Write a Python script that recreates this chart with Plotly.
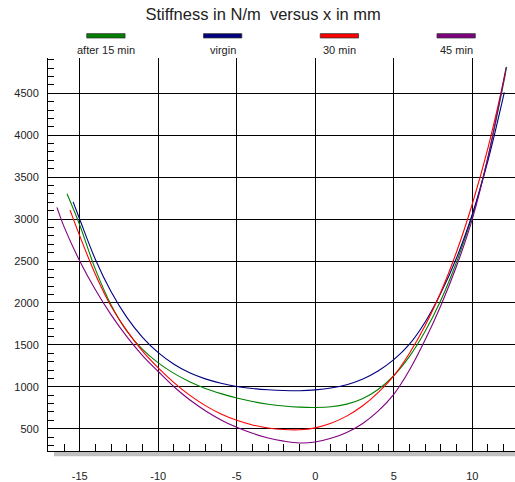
import plotly.graph_objects as go

# ---- data ----
series_names = ["after 15 min", "virgin", "30 min", "45 min"]
series_colors = ["#008000", "#000080", "#ff0000", "#800080"]

x_virgin = [-15.42, -15, -14, -13, -12, -11, -10, -9, -8, -7, -6, -5, -4, -3, -2, -1,
            0, 1, 2, 3, 4, 5, 6, 7, 8, 9, 10, 11, 12, 12.04]
y_virgin = [3205, 2998, 2518, 2133, 1828, 1590, 1407, 1269, 1167, 1094, 1042, 1004, 980,
            964, 955, 953, 963, 985, 1025, 1090, 1188, 1323, 1508, 1773, 2118, 2538, 3058,
            3698, 4478, 4512]

x_15 = [-15.81, -15, -14, -13, -12, -11, -10, -9, -8, -7, -6, -5, -4, -3, -2, -1,
        0, 1, 2, 3, 4, 5, 6, 7, 8, 9, 10, 11, 12, 12.19]
y_15 = [3301, 2930, 2400, 1975, 1662, 1445, 1285, 1160, 1060, 980, 918, 866, 824, 792,
        770, 757, 753, 761, 793, 858, 968, 1133, 1363, 1663, 2033, 2488, 3038, 3738, 4628,
        4815]

x_30 = [-15.62, -15, -14, -13, -12, -11, -10, -9, -8, -7, -6, -5, -4, -3, -2, -1,
        0, 1, 2, 3, 4, 5, 6, 7, 8, 9, 10, 11, 12, 12.1]
y_30 = [3110, 2800, 2340, 1960, 1670, 1425, 1225, 1050, 900, 775, 675, 600, 545, 508,
        490, 488, 510, 565, 650, 770, 930, 1130, 1400, 1730, 2130, 2610, 3180, 3850, 4650,
        4740]

x_45 = [-16.45, -16, -15, -14, -13, -12, -11, -10, -9, -8, -7, -6, -5, -4, -3, -2, -1,
        0, 1, 2, 3, 4, 5, 6, 7, 8, 9, 10, 11, 12, 12.15]
y_45 = [3140, 2910, 2500, 2157, 1857, 1597, 1372, 1182, 1000, 845, 715, 605, 516, 445,
        390, 352, 330, 342, 385, 455, 560, 710, 910, 1200, 1560, 1970, 2440, 3000, 3740,
        4660, 4810]

x_ticks = [-15, -10, -5, 0, 5, 10]
y_ticks = [500, 1000, 1500, 2000, 2500, 3000, 3500, 4000, 4500]

title_text = "Stiffness in N/m  versus x in mm"

xs = [x_15, x_virgin, x_30, x_45]
ys = [y_15, y_virgin, y_30, y_45]

FONT = "Liberation Sans, Arial, sans-serif"

fig = go.Figure()
for name, color, xv, yv in zip(series_names, series_colors, xs, ys):
    fig.add_trace(go.Scatter(x=xv, y=yv, mode="lines", name=name,
                             line=dict(color=color, width=1.1, shape="spline",
                                       smoothing=1.0),
                             showlegend=False))

# custom legend: bar above text
shapes = []
annotations = []
for i, (name, color) in enumerate(zip(series_names, series_colors)):
    cx = 0.124 + i * 0.25
    shapes.append(dict(type="rect", xref="paper", yref="paper",
                       x0=cx - 0.041, x1=cx + 0.041, y0=1.051, y1=1.062,
                       fillcolor=color, line=dict(color="#333333", width=0.8)))
    annotations.append(dict(text=name, xref="paper", yref="paper", x=cx, y=1.021,
                            xanchor="center", yanchor="middle", showarrow=False,
                            font=dict(family=FONT, size=11, color="#222222")))

# gray shadow under bottom axis
shapes.append(dict(type="rect", xref="paper", yref="paper", x0=0.0128, x1=1.0,
                   y0=-0.0135, y1=-0.002, fillcolor="#c0c0c0", line=dict(width=0),
                   layer="below"))

fig.update_layout(
    width=515, height=482,
    margin=dict(l=48, r=0, t=58, b=31),
    paper_bgcolor="white", plot_bgcolor="white",
    title=dict(text=title_text, x=0.511, xanchor="center", y=0.97, yanchor="middle",
               font=dict(family=FONT, size=16.5, color="#222222")),
    shapes=shapes, annotations=annotations,
    xaxis=dict(range=[-17.02, 12.72], tickvals=x_ticks, ticktext=[str(v) for v in x_ticks],
               showgrid=True, gridcolor="#000000", gridwidth=1,
               showline=True, linecolor="#000000", linewidth=1,
               ticks="inside", ticklen=7, tickcolor="#000000",
               minor=dict(dtick=1, ticks="inside", ticklen=7, tickcolor="#000000",
                          showgrid=False),
               zeroline=False, tickfont=dict(family=FONT, size=11, color="#222222"),
               ticklabelstandoff=15),
    yaxis=dict(range=[234, 4921], tickvals=y_ticks, ticktext=[str(v) for v in y_ticks],
               showgrid=True, gridcolor="#000000", gridwidth=1,
               showline=True, linecolor="#000000", linewidth=1,
               ticks="inside", ticklen=6, tickcolor="#000000",
               minor=dict(dtick=100, ticks="inside", ticklen=6, tickcolor="#000000",
                          showgrid=False),
               zeroline=False, tickfont=dict(family=FONT, size=11, color="#222222"),
               ticklabelstandoff=6),
)

fig.write_html("out.html")
